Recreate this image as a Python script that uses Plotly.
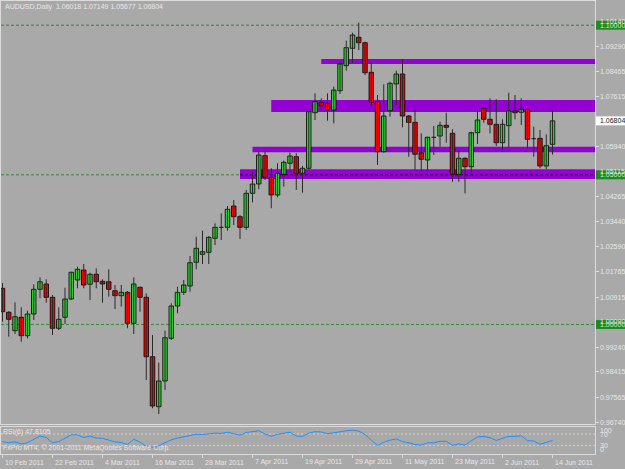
import plotly.graph_objects as go

# ---------------- data ----------------
symbol = "AUDUSD,Daily"
opens = [1.01208, 1.00406, 0.99791, 1.00239, 0.99624, 1.00349, 1.01174, 1.01352, 1.00907, 0.99871,
         1.00239, 1.00850, 1.01485, 1.01819, 1.01342, 1.01676, 1.01442, 1.01428, 1.01128, 1.00961,
         1.01074, 1.00038, 1.01241, 1.00907, 0.98922, 0.97251, 0.98110, 0.99537, 1.00616, 1.01074,
         1.01285, 1.02077, 1.02344, 1.02411, 1.02879, 1.03246, 1.03246, 1.03958, 1.03601, 1.03246,
         1.04382, 1.04693, 1.05639, 1.04917, 1.04326, 1.05017, 1.05385, 1.05605, 1.05051, 1.05218,
         1.07076, 1.07423, 1.07390, 1.07166, 1.07811, 1.08646, 1.09228, 1.09595, 1.09415, 1.08426,
         1.07443, 1.05773, 1.07143, 1.08035, 1.08369, 1.06965, 1.06755, 1.05739, 1.05495, 1.06254,
         1.06297, 1.06655, 1.06387, 1.05017, 1.05552, 1.05271, 1.06407, 1.07223, 1.06855, 1.06688,
         1.06073, 1.06641, 1.07133, 1.07089, 1.07189, 1.06207, 1.06220, 1.05295, 1.06018]
highs = [1.01385, 1.00449, 1.00740, 1.00573, 1.00459, 1.01342, 1.01575, 1.01509, 1.00984, 1.00573,
         1.01228, 1.01763, 1.01930, 1.02020, 1.01729, 1.01876, 1.01509, 1.01843, 1.01318, 1.01318,
         1.01118, 1.01575, 1.01261, 1.01041, 0.99647, 0.98722, 0.99791, 1.00707, 1.01261, 1.01485,
         1.02287, 1.02932, 1.03133, 1.02956, 1.03380, 1.03714, 1.03958, 1.04159, 1.03657, 1.04493,
         1.05084, 1.05773, 1.05773, 1.05218, 1.05385, 1.05472, 1.05739, 1.05719, 1.05295, 1.07143,
         1.07724, 1.07557, 1.07724, 1.07945, 1.08780, 1.09482, 1.09749, 1.10083, 1.09448, 1.08747,
         1.07667, 1.08025, 1.08112, 1.08479, 1.08860, 1.06999, 1.07166, 1.06387, 1.06274, 1.06631,
         1.06775, 1.07076, 1.06521, 1.05806, 1.05585, 1.06441, 1.07166, 1.07256, 1.07557, 1.07524,
         1.06855, 1.07744, 1.07667, 1.07557, 1.07223, 1.06608, 1.06498, 1.06354, 1.07149]
lows = [1.00092, 0.99591, 0.99681, 0.99424, 0.99537, 1.00149, 1.00874, 1.00727, 0.99647, 0.99814,
        1.00015, 1.00817, 1.01208, 1.01208, 1.00817, 1.01208, 1.00727, 1.00927, 1.00516, 1.00593,
        0.99871, 0.99681, 1.00426, 0.98144, 0.97198, 0.97008, 0.97810, 0.99480, 1.00373, 1.00984,
        1.01094, 1.01843, 1.02020, 1.02020, 1.02655, 1.02822, 1.03133, 1.03323, 1.02855, 1.03156,
        1.04082, 1.04516, 1.04827, 1.03881, 1.04249, 1.04603, 1.05104, 1.04493, 1.04402, 1.05184,
        1.06832, 1.07143, 1.06808, 1.06722, 1.07701, 1.08479, 1.08747, 1.09171, 1.08336, 1.07256,
        1.05328, 1.05739, 1.06942, 1.07333, 1.06588, 1.05605, 1.05161, 1.05104, 1.05027, 1.05662,
        1.05940, 1.06073, 1.04770, 1.04770, 1.04382, 1.05051, 1.06030, 1.06742, 1.06387, 1.05963,
        1.05829, 1.05920, 1.06855, 1.06665, 1.05853, 1.05605, 1.05218, 1.05184, 1.05677]
closes = [1.00426, 1.00172, 1.00259, 0.99624, 1.00349, 1.01174, 1.01428, 1.00907, 0.99871, 1.00172,
          1.00850, 1.01743, 1.01843, 1.01318, 1.01676, 1.01428, 1.01352, 1.01174, 1.00961, 1.01074,
          1.00038, 1.01352, 1.00907, 0.98922, 0.97275, 0.98110, 0.99557, 1.00616, 1.01074, 1.01318,
          1.02063, 1.02545, 1.02431, 1.02912, 1.03246, 1.03246, 1.03848, 1.03601, 1.03246, 1.04382,
          1.04693, 1.05662, 1.04917, 1.04326, 1.05051, 1.05418, 1.05629, 1.05051, 1.05218, 1.07109,
          1.07443, 1.07310, 1.07166, 1.07834, 1.08703, 1.09248, 1.09672, 1.09415, 1.08412, 1.07423,
          1.05773, 1.06965, 1.08058, 1.08369, 1.06965, 1.06755, 1.05686, 1.05519, 1.06254, 1.06254,
          1.06655, 1.06588, 1.05017, 1.05552, 1.05271, 1.06407, 1.06832, 1.06855, 1.06688, 1.06073,
          1.06688, 1.07133, 1.07076, 1.07189, 1.06187, 1.06207, 1.05295, 1.05973, 1.06804]
rsi = [44, 40, 43, 36, 40, 52, 63, 58, 40, 44,
       55, 67, 67, 58, 63, 56, 55, 50, 43, 41,
       34, 52, 42, 28, 24, 30, 40, 50, 56, 60,
       66, 69, 68, 71, 73, 72, 76, 71, 66, 75,
       77, 81, 70, 62, 69, 73, 76, 63, 62, 73,
       78, 77, 71, 74, 78, 81, 83, 80, 68, 50,
       31, 42, 49, 53, 44, 40, 34, 32, 40, 40,
       45, 45, 31, 36, 32, 47, 60, 62, 57, 48,
       55, 62, 62, 64, 47, 46, 35, 42, 47.8105]
rsi_period = 6
rsi_levels = [70, 30]

x_tick_bars = [0, 8, 16, 24, 32, 40, 48, 56, 64, 72, 80, 88]
x_tick_labels = ["10 Feb 2011", "22 Feb 2011", "4 Mar 2011", "16 Mar 2011", "28 Mar 2011",
                 "7 Apr 2011", "19 Apr 2011", "29 Apr 2011", "11 May 2011", "23 May 2011",
                 "2 Jun 2011", "14 Jun 2011"]
y_tick_vals = [1.10140, 1.09290, 1.08465, 1.07615, 1.05940, 1.05115, 1.04265, 1.03440,
               1.02590, 1.01765, 1.00915, 1.00090, 0.99240, 0.98415, 0.97565, 0.96740]
round_levels = [1.10000, 1.05000, 1.00000]

band_start = [51, 43, 40, 38]
band_low = [1.08703, 1.07099, 1.05753, 1.04860]
band_high = [1.08870, 1.07500, 1.05940, 1.05184]

# ---------------- styling / geometry ----------------
W, H = 625, 469
BG = "#A9A9A9"
FG = "#E8E8E8"
FONT = "Liberation Sans, Arial, sans-serif"
BULL = "#32CD32"
BEAR = "#FF0000"
PURPLE = "#9400D3"
GREEN_LINE = "#2E8B2E"

# main panel pixel box: x 1..595, y 1..424 ; rsi panel y 427..454
P_TOP, P_BOT = 1.108083, 0.966733
X_LO, X_HI = -0.24, 94.8
PX_PRICE = (P_TOP - P_BOT) / 423.0

n = len(closes)
idx = list(range(n))

fig = go.Figure()

# wicks
wx, wy = [], []
for i in idx:
    wx += [i, i, None]
    wy += [lows[i], highs[i], None]
fig.add_trace(go.Scatter(x=wx, y=wy, mode="lines", line=dict(color="#2A2A2A", width=1),
                         hoverinfo="skip", showlegend=False))

BW = 0.72
bx, bb, bh, rx, rb, rh = [], [], [], [], [], []
dx, dy = [], []
for i in idx:
    o, c = opens[i], closes[i]
    if abs(c - o) < 1e-6:
        dx += [i - BW / 2, i + BW / 2, None]
        dy += [o, o, None]
    elif c > o:
        bx.append(i); bb.append(o); bh.append(c - o)
    else:
        rx.append(i); rb.append(c); rh.append(o - c)

fig.add_trace(go.Bar(x=bx, y=bh, base=bb, width=BW,
                     marker=dict(color=BULL, line=dict(color="#000000", width=0.8)),
                     showlegend=False, hoverinfo="skip"))
fig.add_trace(go.Bar(x=rx, y=rh, base=rb, width=BW,
                     marker=dict(color=BEAR, line=dict(color="#000000", width=0.8)),
                     showlegend=False, hoverinfo="skip"))
fig.add_trace(go.Scatter(x=dx, y=dy, mode="lines", line=dict(color="#101010", width=1),
                         hoverinfo="skip", showlegend=False))

# RSI
fig.add_trace(go.Scatter(x=idx, y=rsi, mode="lines", xaxis="x2", yaxis="y2",
                         line=dict(color="#1E90FF", width=1), hoverinfo="skip", showlegend=False))

shapes = []
# round-number dotted levels
for lv in round_levels:
    shapes.append(dict(type="line", xref="x", yref="y", x0=X_LO, x1=X_HI, y0=lv, y1=lv,
                       line=dict(color=GREEN_LINE, width=1, dash="3px,2px"), layer="below"))
# purple zones
for s, lo, hi in zip(band_start, band_low, band_high):
    shapes.append(dict(type="rect", xref="x", yref="y", x0=s, x1=X_HI, y0=lo, y1=hi,
                       fillcolor=PURPLE, line=dict(width=0), layer="below"))
# level line seen through the zones
for lv in round_levels:
    for s, lo, hi in zip(band_start, band_low, band_high):
        if lo <= lv <= hi:
            shapes.append(dict(type="line", xref="x", yref="y", x0=s, x1=X_HI, y0=lv, y1=lv,
                               line=dict(color="#2A0040", width=1, dash="3px,2px"), layer="below"))
# RSI levels
for lv in rsi_levels:
    shapes.append(dict(type="line", xref="x2", yref="y2", x0=X_LO, x1=X_HI, y0=lv, y1=lv,
                       line=dict(color="#D8D0C0", width=1, dash="2px,2px"), layer="below"))
# green price tags for round levels
for lv in round_levels:
    shapes.append(dict(type="rect", xref="paper", yref="y", x0=596 / W, x1=1.0,
                       y0=lv - 4.5 * PX_PRICE, y1=lv + 4.5 * PX_PRICE,
                       fillcolor="#1F8A1F", line=dict(width=0), layer="above"))
# current price tag
last = closes[-1]
shapes.append(dict(type="rect", xref="paper", yref="y", x0=596 / W, x1=1.0,
                   y0=last - 4.5 * PX_PRICE, y1=last + 4.5 * PX_PRICE,
                   fillcolor="#FFFFFF", line=dict(width=0), layer="above"))

ann = []
f7 = dict(family=FONT, size=7, color=FG)
for lv in round_levels:
    ann.append(dict(text=f"{lv:.5f}", xref="paper", yref="y", x=598 / W, y=lv,
                    xanchor="left", yanchor="middle", showarrow=False, font=dict(family=FONT, size=7, color="#D0E8D0")))
for v in y_tick_vals:
    ann.append(dict(text=f"{v:.5f}", xref="paper", yref="y", x=598 / W, y=v,
                    xanchor="left", yanchor="middle", showarrow=False, font=f7))
ann.append(dict(text=f"{last:.5f}", xref="paper", yref="y", x=598 / W, y=last,
                xanchor="left", yanchor="middle", showarrow=False,
                font=dict(family=FONT, size=7, color="#202020")))
for b, t in zip(x_tick_bars, x_tick_labels):
    ann.append(dict(text=t, xref="x2", yref="paper", x=b, y=1 - 462 / H,
                    xanchor="left", yanchor="middle", showarrow=False, font=f7))
ann.append(dict(text=f"{symbol}  {opens[-1]:.5f} {highs[-1]:.5f} {lows[-1]:.5f} {closes[-1]:.5f}",
                xref="paper", yref="paper", x=3 / W, y=1 - 7 / H, xanchor="left", yanchor="middle",
                showarrow=False, font=f7))
ann.append(dict(text=f"RSI({rsi_period}) {rsi[-1]:.4f}", xref="paper", yref="paper", x=1 / W,
                y=1 - 432 / H, xanchor="left", yanchor="middle", showarrow=False, font=f7))
ann.append(dict(text="FxPro MT4, © 2001-2011 MetaQuotes Software Corp.", xref="paper", yref="paper",
                x=1 / W, y=1 - 448 / H, xanchor="left", yanchor="middle", showarrow=False, font=f7))
for lab, pos in [("100", 430), ("70", 434), ("30", 445), ("0", 449)]:
    ann.append(dict(text=lab, xref="paper", yref="paper", x=598 / W, y=1 - pos / H,
                    xanchor="left", yanchor="middle", showarrow=False, font=f7))

axline = dict(showline=True, linecolor="#DCDCDC", linewidth=1, mirror=True,
              showgrid=False, zeroline=False)
fig.update_layout(
    width=W, height=H, margin=dict(l=0, r=0, t=0, b=0),
    paper_bgcolor=BG, plot_bgcolor=BG, barmode="overlay", showlegend=False,
    xaxis=dict(domain=[1 / W, 595 / W], range=[X_LO, X_HI], anchor="y",
               showticklabels=False, ticks="", **axline),
    yaxis=dict(domain=[45 / H, 468 / H], range=[P_BOT, P_TOP], anchor="x", side="right",
               tickvals=y_tick_vals, ticks="outside", ticklen=3, tickcolor="#DCDCDC",
               showticklabels=False, **axline),
    xaxis2=dict(domain=[1 / W, 595 / W], range=[X_LO, X_HI], anchor="y2",
                tickvals=x_tick_bars, ticks="outside", ticklen=3, tickcolor="#DCDCDC",
                showticklabels=False, **axline),
    yaxis2=dict(domain=[15 / H, 42 / H], range=[1.6, 93.9], anchor="x2", side="right",
                showticklabels=False, ticks="", **axline),
    shapes=shapes, annotations=ann,
)

fig.write_html("out.html")
